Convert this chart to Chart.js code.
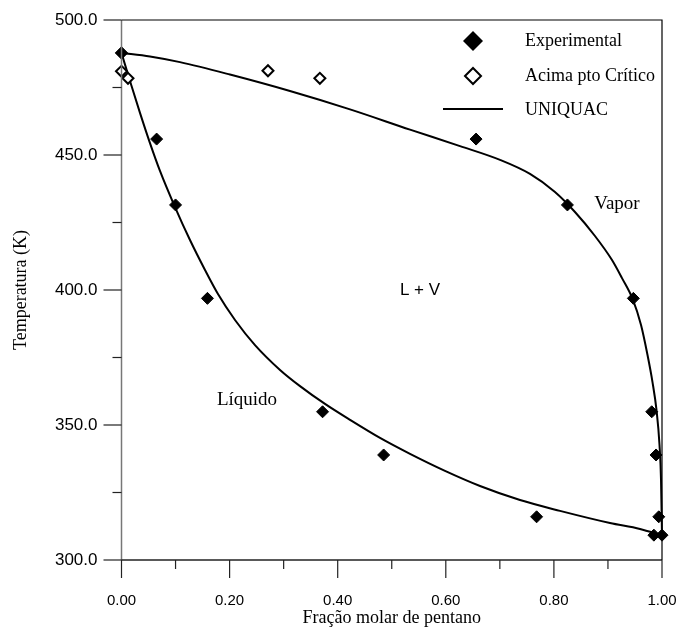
<!DOCTYPE html>
<html>
<head>
<meta charset="utf-8">
<script src="https://cdn.jsdelivr.net/npm/chart.js@4/dist/chart.umd.min.js"></script>
<style>
    html, body { margin: 0; padding: 0; background: #fff; }
    #grafico { display: block; }
</style>
</head>
<body>
<canvas id="grafico" width="681" height="628"></canvas>
<script>
        // Pontos experimentais (mesmas temperaturas para líquido e vapor)
        var temperaturaExp = [487.8, 455.9, 431.5, 396.9, 354.9, 338.9, 316.0, 309.2];
        var liquidoExpX = [0.000, 0.065, 0.100, 0.159, 0.372, 0.485, 0.768, 0.985];
        var vaporExpX = [0.000, 0.656, 0.825, 0.947, 0.981, 0.989, 0.994, 1.000];

        // Pontos acima do ponto crítico
        var acimaX = [0.000, 0.012, 0.271, 0.367];
        var acimaT = [481.0, 478.4, 481.2, 478.4];

        // Curvas UNIQUAC
        var liquidoCurvaX = [0.000, 0.0157, 0.0342, 0.0527, 0.0712, 0.0990, 0.1267, 0.1545, 0.1785, 0.2100, 0.2470, 0.2933,
            0.3303, 0.3765, 0.4228, 0.4783, 0.5338, 0.5985, 0.6633, 0.7373, 0.8113, 0.9038, 0.9593, 1.000];
        var liquidoCurvaT = [487.8, 477.4, 465.6, 454.4, 444.1, 430.7, 418.5, 407.4, 398.5, 388.9, 379.6, 370.4,
            364.4, 357.8, 351.9, 345.2, 339.3, 333.0, 327.4, 322.2, 318.2, 313.7, 311.5, 309.1];
        var vaporCurvaX = [0.000, 0.0527, 0.1082, 0.2007, 0.3117, 0.4228, 0.5338, 0.6263, 0.7003, 0.7558, 0.8020, 0.8390,
            0.8760, 0.9075, 0.9260, 0.9458, 0.9612, 0.9732, 0.9824, 0.9898, 0.9954, 0.9982, 1.000];
        var vaporCurvaT = [487.8, 486.5, 484.4, 479.8, 473.7, 466.9, 459.4, 453.3, 448.2, 443.0, 436.3, 428.9,
            420.0, 411.1, 404.4, 396.6, 387.0, 375.9, 365.9, 355.6, 342.6, 329.6, 308.9];

        // Marcas dos eixos
        var xTicks = [0, 0.2, 0.4, 0.6, 0.8, 1.0];
        var xMenores = [0.1, 0.3, 0.5, 0.7, 0.9];
        var yTicks = [300, 350, 400, 450, 500];
        var yMenores = [325, 375, 425, 475];

        var legendaTextos = ['Experimental', 'Acima pto Crítico', 'UNIQUAC'];

        function pares(xs, ys) {
            return xs.map(function (v, i) { return { x: v, y: ys[i] }; });
        }

        function losango(ctx, x, y, r, cheio) {
            ctx.beginPath();
            ctx.moveTo(x - r, y);
            ctx.lineTo(x, y - r);
            ctx.lineTo(x + r, y);
            ctx.lineTo(x, y + r);
            ctx.closePath();
            if (cheio) {
                ctx.fillStyle = '#000';
                ctx.fill();
            } else {
                ctx.fillStyle = '#fff';
                ctx.fill();
                ctx.lineWidth = 2;
                ctx.strokeStyle = '#000';
                ctx.stroke();
            }
        }

        // Moldura, marcas menores, textos e legenda
        var molduraPlugin = {
            id: 'moldura',
            afterDraw: function (chart) {
                var ctx = chart.ctx;
                var a = chart.chartArea;
                var sx = chart.scales.x, sy = chart.scales.y;
                ctx.save();

                // eixo esquerdo (cinza) e inferior
                ctx.lineWidth = 1.5;
                ctx.strokeStyle = '#777';
                ctx.beginPath();
                ctx.moveTo(a.left, a.top);
                ctx.lineTo(a.left, a.bottom);
                ctx.stroke();
                ctx.strokeStyle = '#222';
                ctx.beginPath();
                ctx.moveTo(a.left, a.bottom);
                ctx.lineTo(a.right, a.bottom);
                ctx.stroke();
                // topo e direita
                ctx.lineWidth = 1.2;
                ctx.strokeStyle = '#000';
                ctx.beginPath();
                ctx.moveTo(a.left, a.top);
                ctx.lineTo(a.right, a.top);
                ctx.lineTo(a.right, a.bottom);
                ctx.stroke();

                // marcas
                ctx.lineWidth = 1.2;
                ctx.strokeStyle = '#222';
                xTicks.forEach(function (v) {
                    var px = sx.getPixelForValue(v);
                    ctx.beginPath(); ctx.moveTo(px, a.bottom); ctx.lineTo(px, a.bottom + 18); ctx.stroke();
                });
                xMenores.forEach(function (v) {
                    var px = sx.getPixelForValue(v);
                    ctx.beginPath(); ctx.moveTo(px, a.bottom); ctx.lineTo(px, a.bottom + 9); ctx.stroke();
                });
                yTicks.forEach(function (v) {
                    var py = sy.getPixelForValue(v);
                    ctx.beginPath(); ctx.moveTo(a.left - 18, py); ctx.lineTo(a.left, py); ctx.stroke();
                });
                yMenores.forEach(function (v) {
                    var py = sy.getPixelForValue(v);
                    ctx.beginPath(); ctx.moveTo(a.left - 9, py); ctx.lineTo(a.left, py); ctx.stroke();
                });

                // rótulos das regiões
                ctx.fillStyle = '#000';
                ctx.textBaseline = 'middle';
                ctx.textAlign = 'center';
                ctx.font = '19px "Liberation Serif"';
                ctx.fillText('Vapor', 617, 204);
                ctx.fillText('Líquido', 247, 400);
                ctx.font = '17px "Liberation Sans"';
                ctx.fillText('L + V', 420, 290);

                // legenda
                losango(ctx, 473, 41, 10, true);
                losango(ctx, 473, 76, 8, false);
                ctx.lineWidth = 2;
                ctx.strokeStyle = '#000';
                ctx.beginPath(); ctx.moveTo(443, 109); ctx.lineTo(503, 109); ctx.stroke();
                ctx.fillStyle = '#000';
                ctx.textAlign = 'left';
                ctx.font = '18px "Liberation Serif"';
                ctx.fillText(legendaTextos[0], 525, 41);
                ctx.fillText(legendaTextos[1], 525, 76);
                ctx.fillText(legendaTextos[2], 525, 110);

                ctx.restore();
            }
        };

        var ctx = document.getElementById('grafico').getContext('2d');
        var grafico = new Chart(ctx, {
            type: 'scatter',
            data: {
                datasets: [
                    {
                        label: legendaTextos[0],
                        data: pares(liquidoExpX, temperaturaExp).concat(pares(vaporExpX, temperaturaExp)),
                        pointStyle: 'rectRot',
                        pointRadius: 6,
                        backgroundColor: '#000',
                        borderColor: '#000',
                        borderWidth: 1,
                        clip: false
                    },
                    {
                        label: legendaTextos[1],
                        data: pares(acimaX, acimaT),
                        pointStyle: 'rectRot',
                        pointRadius: 5.5,
                        backgroundColor: '#fff',
                        borderColor: '#000',
                        borderWidth: 2,
                        clip: false
                    },
                    {
                        label: legendaTextos[2],
                        type: 'line',
                        data: pares(liquidoCurvaX, liquidoCurvaT),
                        showLine: true,
                        borderColor: '#000',
                        borderWidth: 2,
                        pointRadius: 0,
                        cubicInterpolationMode: 'monotone',
                        fill: false,
                        clip: false
                    },
                    {
                        label: legendaTextos[2],
                        type: 'line',
                        data: pares(vaporCurvaX, vaporCurvaT),
                        showLine: true,
                        borderColor: '#000',
                        borderWidth: 2,
                        pointRadius: 0,
                        cubicInterpolationMode: 'monotone',
                        fill: false,
                        clip: false
                    }
                ]
            },
            options: {
                responsive: false,
                animation: false,
                events: [],
                layout: { padding: { top: 20, right: 19, left: 0, bottom: 0 } },
                plugins: {
                    legend: { display: false },
                    tooltip: { enabled: false }
                },
                scales: {
                    x: {
                        type: 'linear',
                        min: 0,
                        max: 1,
                        afterFit: function (s) { s.height = 68; s.paddingLeft = 0; s.paddingRight = 0; },
                        afterBuildTicks: function (s) { s.ticks = xTicks.map(function (v) { return { value: v }; }); },
                        grid: { display: false, drawTicks: false, tickLength: 0 },
                        border: { display: false },
                        ticks: {
                            padding: 32,
                            color: '#000',
                            font: { family: 'Liberation Sans', size: 15 },
                            maxRotation: 0,
                            callback: function (v) { return Number(v).toFixed(2); }
                        },
                        title: {
                            display: true,
                            text: 'Fração molar de pentano',
                            color: '#000',
                            font: { family: 'Liberation Serif', size: 18, lineHeight: 1 },
                            padding: { top: 0, bottom: 1 }
                        }
                    },
                    y: {
                        type: 'linear',
                        min: 300,
                        max: 500,
                        afterFit: function (s) { s.width = 121.5; s.paddingTop = 0; s.paddingBottom = 0; },
                        afterBuildTicks: function (s) { s.ticks = yTicks.map(function (v) { return { value: v }; }); },
                        grid: { display: false, drawTicks: false, tickLength: 0 },
                        border: { display: false },
                        ticks: {
                            padding: 24,
                            color: '#000',
                            font: { family: 'Liberation Sans', size: 17 },
                            callback: function (v) { return Number(v).toFixed(1); }
                        },
                        title: {
                            display: true,
                            text: 'Temperatura (K)',
                            color: '#000',
                            font: { family: 'Liberation Serif', size: 18, lineHeight: 1.2 },
                            padding: { top: 10, bottom: 0 }
                        }
                    }
                }
            },
            plugins: [molduraPlugin]
        });
</script>
</body>
</html>
